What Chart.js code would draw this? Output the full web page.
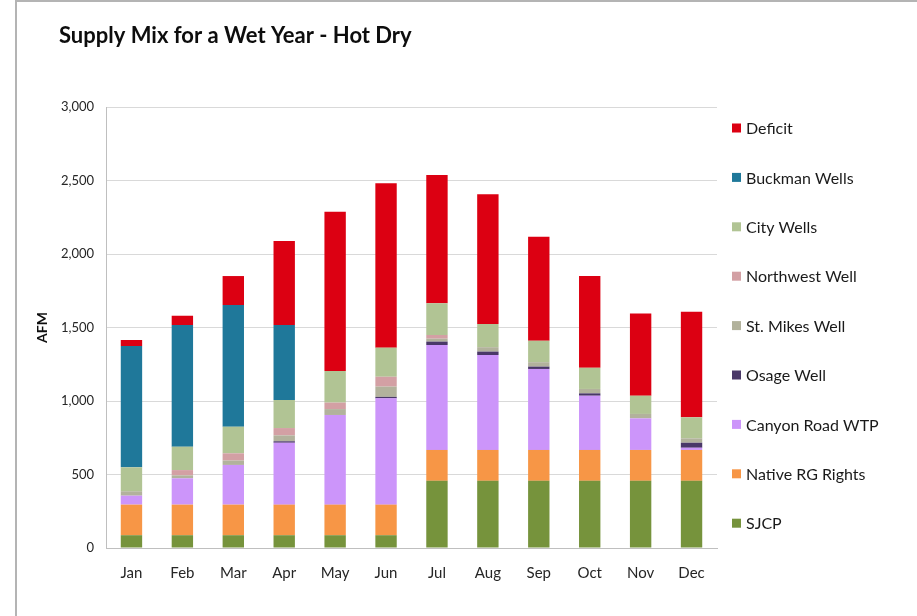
<!DOCTYPE html>
<html>
<head>
<meta charset="utf-8">
<script src="https://cdn.jsdelivr.net/npm/chart.js@4.4.0/dist/chart.umd.min.js"></script>
<style>
  html, body { margin: 0; padding: 0; background: #fff; }
  #frame {
    position: absolute; left: 15px; top: 0; width: 902px; height: 616px;
    border-left: 2px solid #b4b4b4; border-top: 2px solid #b4b4b4; box-sizing: border-box;
  }
  #wrap { position: absolute; left: 0; top: 0; width: 917px; height: 616px; }
</style>
</head>
<body>
<div id="frame"></div>
<div id="wrap"><canvas id="supplyChart" width="917" height="616"></canvas></div>
<script>
// Data (AFM), stacked bottom to top
const months = ["Jan", "Feb", "Mar", "Apr", "May", "Jun", "Jul", "Aug", "Sep", "Oct", "Nov", "Dec"];
const sjcp = [87, 87, 87, 87, 87, 87, 457, 457, 457, 457, 457, 457];
const nativeRG = [208, 208, 208, 208, 208, 208, 210, 210, 210, 210, 210, 210];
const canyonRoad = [61, 179, 270, 421, 610, 723, 714, 646, 551, 369, 215, 15];
const osageWell = [0, 0, 0, 10, 0, 10, 23, 23, 16, 16, 0, 34];
const stMikesWell = [30, 20, 30, 40, 40, 70, 20, 30, 30, 30, 30, 30];
const northwestWell = [0, 36, 49, 50, 44, 67, 25, 0, 0, 0, 0, 0];
const cityWells = [163, 159, 181, 191, 215, 198, 216, 158, 146, 144, 124, 143];
const buckmanWells = [825, 828, 828, 510, 0, 0, 0, 0, 0, 0, 0, 0];
const deficit = [41, 63, 197, 571, 1084, 1118, 872, 882, 708, 624, 560, 718];
const yTicks = [0, 500, 1000, 1500, 2000, 2500, 3000];

const seriesNames = ["SJCP", "Native RG Rights", "Canyon Road WTP", "Osage Well", "St. Mikes Well",
  "Northwest Well", "City Wells", "Buckman Wells", "Deficit"];
const seriesValues = [sjcp, nativeRG, canyonRoad, osageWell, stMikesWell, northwestWell, cityWells, buckmanWells, deficit];
const seriesColors = ["#76933c", "#f79646", "#cc95fa", "#4a3868", "#b2b29c",
  "#d3a0a4", "#b1c494", "#1f789a", "#dc0012"];

const fontFamily = "Lato, 'Open Sans', sans-serif";

const datasets = seriesNames.map((name, i) => ({
  label: name,
  data: seriesValues[i],
  backgroundColor: seriesColors[i],
  borderWidth: 0,
  barPercentage: 0.84,
  categoryPercentage: 0.5,
}));

// title and right-hand legend drawn by hand to match the layout
const decorPlugin = {
  id: "decor",
  afterDraw(chart) {
    const ctx = chart.ctx;
    const area = chart.chartArea;
    ctx.save();
    ctx.fillStyle = "#0d0d0d";
    ctx.font = "bold 22px " + fontFamily;
    ctx.textBaseline = "middle";
    ctx.textAlign = "left";
    ctx.fillText("Supply Mix for a Wet Year - Hot Dry", 59, 36);

    ctx.font = "16px " + fontFamily;
    const n = chart.data.datasets.length;
    for (let k = 0; k < n; k++) {
      const ds = chart.data.datasets[n - 1 - k];
      const y = area.top + 21 + k * 49.4;
      ctx.fillStyle = ds.backgroundColor;
      ctx.fillRect(area.right + 15, y - 4.5, 9, 9);
      ctx.fillStyle = "#1a1a1a";
      ctx.fillText(ds.label, area.right + 29, y + 1);
    }
    ctx.restore();
  },
};

const ctx = document.getElementById("supplyChart").getContext("2d");
const supplyChart = new Chart(ctx, {
  type: "bar",
  data: { labels: months, datasets: datasets },
  options: {
    responsive: false,
    animation: false,
    layout: { padding: { left: 22, right: 200, top: 107, bottom: 18 } },
    plugins: {
      legend: { display: false },
      title: { display: false },
      tooltip: { enabled: false },
    },
    scales: {
      x: {
        stacked: true,
        grid: { display: false, drawTicks: false },
        border: { color: "#bfbfbf" },
        ticks: { color: "#262626", padding: 16, font: { size: 15, family: fontFamily } },
      },
      y: {
        stacked: true,
        min: 0,
        max: 3000,
        afterBuildTicks(scale) { scale.ticks = yTicks.map((v) => ({ value: v })); },
        afterFit(scale) { scale.width = 84; },
        grid: { color: "#d9d9d9", drawTicks: false },
        border: { color: "#bfbfbf" },
        ticks: {
          color: "#262626",
          padding: 12,
          font: { size: 13, family: fontFamily },
          callback: (v) => v.toLocaleString("en-US"),
        },
        title: {
          display: true,
          text: "AFM",
          color: "#0d0d0d",
          padding: { top: 12, bottom: 0 },
          font: { size: 14, weight: "bold", family: fontFamily },
        },
      },
    },
  },
  plugins: [decorPlugin],
});
</script>
</body>
</html>
